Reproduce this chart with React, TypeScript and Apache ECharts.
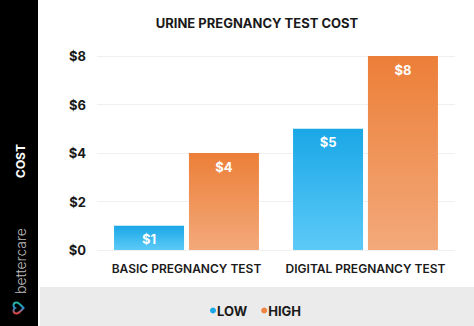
import React, { useEffect, useRef } from "react";
import * as echarts from "echarts";

const categories = ["BASIC PREGNANCY TEST", "DIGITAL PREGNANCY TEST"];
const lowValues = [1, 5];
const highValues = [4, 8];
const yTicks = [0, 2, 4, 6, 8];
const seriesNames = ["LOW", "HIGH"];

const heartPath =
  "M12 21 C5 15 1 11.5 1 7 C1 3.5 3.8 1 7 1 C9 1 11 2.2 12 4 C13 2.2 15 1 17 1 C20.2 1 23 3.5 23 7 C23 11.5 19 15 12 21 Z";

export default function App() {
  const ref = useRef<HTMLDivElement>(null);
  useEffect(() => {
    if (!ref.current) return;
    try {
      echarts.graphic.registerShape("logo", echarts.graphic.extendPath(heartPath, {}) as any);
    } catch (e) {}
    const chart = echarts.init(ref.current, undefined, { renderer: "svg" });
    const font = "Inter, 'Noto Sans', sans-serif";
    const grad = (top: string, bottom: string) =>
      new echarts.graphic.LinearGradient(0, 0, 0, 1, [
        { offset: 0, color: top },
        { offset: 1, color: bottom },
      ]);
    const label = {
      show: true,
      position: "insideTop",
      distance: 7,
      color: "#ffffff",
      fontFamily: font,
      fontWeight: 700,
      fontSize: 13,
      formatter: (p: any) => "$" + p.value,
    };
    chart.setOption({
      animation: false,
      backgroundColor: "#ffffff",
      graphic: [
        { type: "rect", shape: { x: 0, y: 0, width: 38, height: 326 }, style: { fill: "#000000" }, z: -1 },
        { type: "rect", shape: { x: 40, y: 287, width: 434, height: 39 }, style: { fill: "#ebebeb" }, z: -1 },
        {
          type: "text",
          x: 257,
          y: 23,
          style: {
            text: "URINE PREGNANCY TEST COST",
            fill: "#1a1a1a",
            font: `700 13px ${font}`,
            textAlign: "center",
            textVerticalAlign: "middle",
          },
        },
        {
          type: "text",
          x: 20,
          y: 161,
          rotation: Math.PI / 2,
          style: {
            text: "COST",
            fill: "#ffffff",
            font: `700 12px ${font}`,
            textAlign: "center",
            textVerticalAlign: "middle",
          },
        },
        {
          type: "text",
          x: 20,
          y: 261,
          rotation: Math.PI / 2,
          style: {
            text: "bettercare",
            fill: "#bdbdbd",
            font: `300 14px ${font}`,
            textAlign: "center",
            textVerticalAlign: "middle",
          },
        },
        {
          type: "logo",
          x: 13,
          y: 314,
          rotation: Math.PI / 2,
          scaleX: 0.5,
          scaleY: 0.5,
          style: {
            fill: "none",
            lineWidth: 4,
            stroke: new echarts.graphic.LinearGradient(0, 0, 1, 0, [
              { offset: 0, color: "#e0403a" },
              { offset: 0.5, color: "#2a8fd6" },
              { offset: 1, color: "#22b59a" },
            ]),
          },
        },
      ],
      legend: {
        left: 205,
        top: 299,
        icon: "circle",
        itemWidth: 6,
        itemHeight: 6,
        itemGap: 14,
        textStyle: { fontFamily: font, fontWeight: 700, fontSize: 13, color: "#1a1a1a", padding: [0, 0, 0, -4] },
        data: [
          { name: seriesNames[0], itemStyle: { color: "#1aa7e6" } },
          { name: seriesNames[1], itemStyle: { color: "#ee8440" } },
        ],
      },
      grid: { left: 97, right: 19, top: 56, bottom: 76 },
      xAxis: {
        type: "category",
        data: categories,
        axisLine: { show: false },
        axisTick: { show: false },
        axisLabel: { interval: 0, color: "#1a1a1a", fontFamily: font, fontWeight: 600, fontSize: 12, margin: 12 },
      },
      yAxis: {
        type: "value",
        min: 0,
        max: yTicks[yTicks.length - 1],
        interval: 2,
        axisLine: { show: false },
        axisTick: { show: false },
        splitLine: { lineStyle: { color: "#f0f0f0", width: 1 } },
        axisLabel: {
          color: "#1a1a1a",
          fontFamily: font,
          fontWeight: 700,
          fontSize: 13,
          margin: 11,
          formatter: (v: number) => "$" + v,
        },
      },
      series: [
        {
          name: seriesNames[0],
          type: "bar",
          data: lowValues,
          barWidth: 70,
          barGap: "7%",
          itemStyle: { color: grad("#1aa7e6", "#5ccaf8") },
          label,
        },
        {
          name: seriesNames[1],
          type: "bar",
          data: highValues,
          barWidth: 70,
          barGap: "7%",
          itemStyle: { color: grad("#ec7f38", "#f3a97b") },
          label,
        },
      ],
    });
    return () => chart.dispose();
  }, []);
  return <div ref={ref} style={{ position: "fixed", left: 0, top: 0, width: 474, height: 326 }} />;
}
